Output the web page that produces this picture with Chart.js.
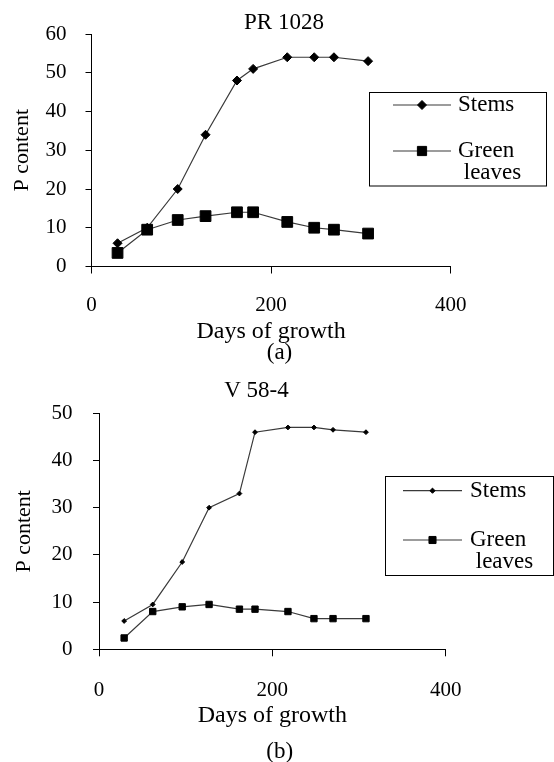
<!DOCTYPE html>
<html>
<head>
<meta charset="utf-8">
<script src="https://cdn.jsdelivr.net/npm/chart.js@4.4.1/dist/chart.umd.min.js"></script>
<style>
  html, body { margin: 0; padding: 0; background: #fff; }
  .panel { position: absolute; left: 0; width: 554px; }
  #panelA { top: 0; height: 380px; }
  #panelB { top: 380px; height: 382px; }
</style>
</head>
<body>
<div class="panel" id="panelA"><canvas id="chartA" width="554" height="380"></canvas></div>
<div class="panel" id="panelB"><canvas id="chartB" width="554" height="382"></canvas></div>
<script>
// P content vs days of growth – two varieties
// ------------------------------------------------

const days = [29, 62, 96, 127, 162, 180, 218, 248, 270, 308];
const seriesNames = ['Stems', 'Green leaves'];

// (a) PR 1028
const stemsA = [6, 10, 20, 34, 48, 51, 54, 54, 54, 53];
const leavesA = [3.5, 9.5, 12, 13, 14, 14, 11.5, 10, 9.5, 8.5];

// (b) V 58-4
const stemsB = [6, 9.5, 18.5, 30, 33, 46, 47, 47, 46.5, 46];
const leavesB = [2.4, 8, 9, 9.5, 8.5, 8.5, 8, 6.5, 6.5, 6.5];

const xTicks = [0, 200, 400];

const FONT = '"Liberation Serif", "Times New Roman", serif';

// -------------------------------------------------------------------------
// Boxed legend drawn inside the canvas (like the Excel original)
// -------------------------------------------------------------------------
const boxLegend = {
  id: 'boxLegend',
  afterDraw(chart, args, opts) {
    const ctx = chart.ctx;
    ctx.save();
    ctx.lineWidth = 1;
    ctx.strokeStyle = '#000';
    ctx.strokeRect(opts.x, opts.y, opts.w, opts.h);
    ctx.font = '23px ' + FONT;
    ctx.textBaseline = 'middle';
    ctx.textAlign = 'left';

    chart.data.datasets.forEach((ds, i) => {
      const rowY = opts.rows[i];
      ctx.strokeStyle = ds.borderColor;
      ctx.lineWidth = ds.borderWidth;
      ctx.beginPath();
      ctx.moveTo(opts.lineX0, rowY);
      ctx.lineTo(opts.lineX1, rowY);
      ctx.stroke();

      ctx.fillStyle = '#000';
      ctx.strokeStyle = '#000';
      ctx.lineWidth = 1;
      Chart.helpers.drawPoint(ctx, {
        pointStyle: ds.pointStyle,
        radius: opts.markR[i],
        borderWidth: 1,
        rotation: 0,
      }, (opts.lineX0 + opts.lineX1) / 2, rowY);

      // wrap "Green leaves" onto two lines
      const parts = ds.label.split(' ');
      const lines = [parts[0]].concat(parts.slice(1).map((p) => ' ' + p));
      ctx.fillStyle = '#000';
      lines.forEach((ln, k) => {
        ctx.fillText(ln, opts.textX, rowY + k * opts.lineGap);
      });
    });
    ctx.restore();
  },
};

// Panel title above and caption below, centred where the original puts them
const panelText = {
  id: 'panelText',
  afterDraw(chart, args, opts) {
    const ctx = chart.ctx;
    ctx.save();
    ctx.font = '23px ' + FONT;
    ctx.fillStyle = '#000';
    ctx.textAlign = 'center';
    ctx.textBaseline = 'middle';
    opts.items.forEach((it) => ctx.fillText(it.text, it.x, it.y));
    ctx.restore();
  },
};

function buildChart(canvasId, cfg) {
  const ctx = document.getElementById(canvasId).getContext('2d');
  return new Chart(ctx, {
    type: 'line',
    data: {
      datasets: [
        {
          label: seriesNames[0],
          data: days.map((d, i) => ({ x: d, y: cfg.stems[i] })),
          borderColor: '#3a3a3a',
          borderWidth: 1.2,
          pointStyle: 'rectRot',
          pointRadius: cfg.diamondR,
          pointBackgroundColor: '#000',
          pointBorderColor: '#000',
          pointBorderWidth: 1,
          tension: 0,
          order: 1,
        },
        {
          label: seriesNames[1],
          data: days.map((d, i) => ({ x: d, y: cfg.leaves[i] })),
          borderColor: '#3a3a3a',
          borderWidth: 1.2,
          pointStyle: 'rect',
          pointRadius: cfg.squareR,
          pointBackgroundColor: '#000',
          pointBorderColor: '#000',
          pointBorderWidth: 1,
          tension: 0,
          order: 0,
        },
      ],
    },
    options: {
      responsive: false,
      animation: false,
      events: [],
      layout: { padding: cfg.pad },
      scales: {
        x: {
          type: 'linear',
          min: 0,
          max: 400,
          afterBuildTicks: (s) => { s.ticks = xTicks.map((v) => ({ value: v })); },
          afterFit: (s) => { s.height = cfg.xHeight; },
          border: { display: true, color: '#000', width: 1 },
          grid: { display: true, drawOnChartArea: false, drawTicks: true, tickLength: 7, color: '#000' },
          ticks: { color: '#000', padding: cfg.xTickPad, font: { family: FONT, size: 21 } },
          title: {
            display: true,
            text: 'Days of growth',
            color: '#000',
            font: { family: FONT, size: 24, lineHeight: 0.9 },
            padding: { top: 0, bottom: 0 },
          },
        },
        y: {
          min: 0,
          max: cfg.yMax,
          afterFit: (s) => { s.width = cfg.yWidth; },
          border: { display: true, color: '#000', width: 1 },
          grid: { display: true, drawOnChartArea: false, drawTicks: true, tickLength: 6, color: '#000' },
          ticks: { stepSize: 10, color: '#000', padding: cfg.yTickPad, font: { family: FONT, size: 21 } },
          title: {
            display: true,
            text: 'P content',
            color: '#000',
            font: { family: FONT, size: 22, lineHeight: 1 },
            padding: { top: cfg.yTitlePad, bottom: 0 },
          },
        },
      },
      plugins: {
        legend: { display: false },
        tooltip: { enabled: false },
        title: { display: false },
        boxLegend: cfg.legend,
        panelText: { items: cfg.texts },
      },
    },
    plugins: [boxLegend, panelText],
  });
}

window.addEventListener('DOMContentLoaded', () => {
  buildChart('chartA', {
    stems: stemsA,
    leaves: leavesA,
    yMax: 60,
    diamondR: 4.5,
    squareR: 7.6,
    pad: { left: 0, right: 103.3, top: 34, bottom: 37 },
    xHeight: 76.5,
    yWidth: 91.5,
    xTickPad: 19.5,
    yTickPad: 19,
    yTitlePad: 11,
    texts: [{ text: 'PR 1028', x: 284, y: 23 }, { text: '(a)', x: 279.5, y: 353 }],
    legend: { x: 369.5, y: 92.5, w: 177, h: 93.5, rows: [105, 151], markR: [4.5, 6.5], lineX0: 393, lineX1: 451, textX: 458, lineGap: 22 },
  });

  buildChart('chartB', {
    stems: stemsB,
    leaves: leavesB,
    yMax: 50,
    diamondR: 2.4,
    squareR: 4.5,
    pad: { left: 0, right: 108.3, top: 33.3, bottom: 35.4 },
    xHeight: 77.3,
    yWidth: 99,
    xTickPad: 21.7,
    yTickPad: 20.6,
    yTitlePad: 13,
    texts: [{ text: 'V 58-4', x: 256.5, y: 11 }, { text: '(b)', x: 279.7, y: 371.7 }],
    legend: { x: 385.5, y: 96.5, w: 168, h: 99, rows: [110.7, 160], markR: [2.6, 5], lineX0: 403, lineX1: 462, textX: 470, lineGap: 22 },
  });
});
</script>
</body>
</html>
